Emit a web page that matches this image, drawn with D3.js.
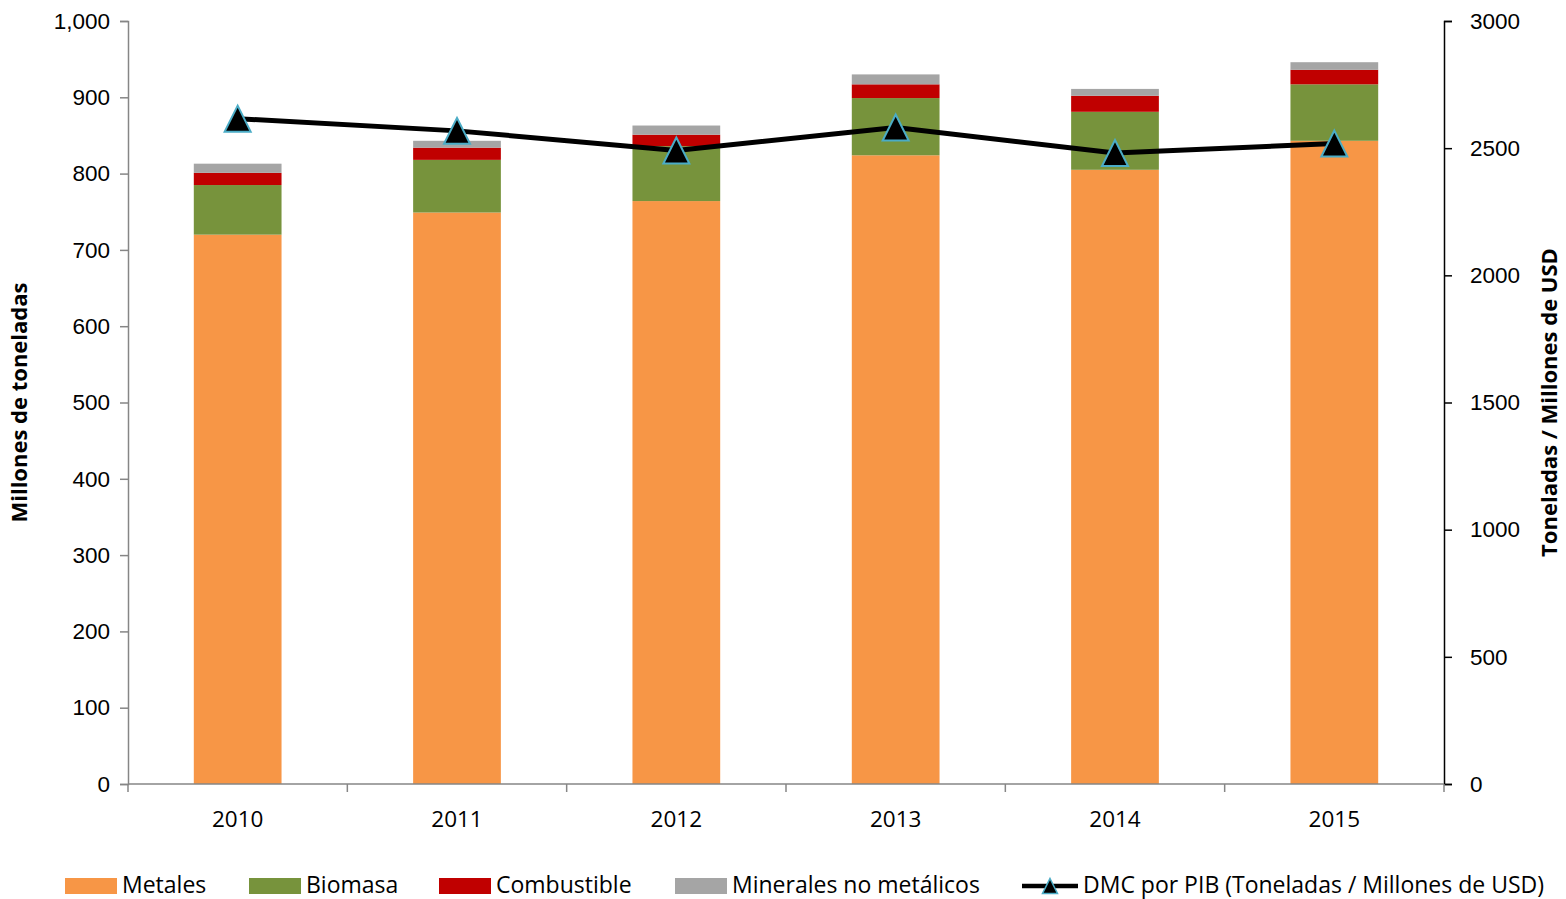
<!DOCTYPE html>
<html>
<head>
<meta charset="utf-8">
<script src="https://cdn.jsdelivr.net/npm/d3@7/dist/d3.min.js"></script>
<style>
  html, body { margin: 0; padding: 0; background: #fff; }
  svg { display: block; font-family: "Open Sans", Lato, sans-serif; }
</style>
</head>
<body>
<svg id="chart" width="1566" height="899"></svg>
<script>
// Consumo material por año (millones de toneladas)
const years = ["2010", "2011", "2012", "2013", "2014", "2015"];
const metales = [720, 749, 764, 824, 805, 843];
const biomasa = [65, 69, 72, 75, 76, 74];
const combustible = [16, 16, 15, 18, 21, 19];
const minerales = [12, 9, 12, 13, 9, 10];
// DMC por PIB (toneladas / millones de USD)
const dmcPib = [2616, 2568, 2491, 2581, 2481, 2518];

const leftTicks = [0, 100, 200, 300, 400, 500, 600, 700, 800, 900, 1000];
const rightTicks = [0, 500, 1000, 1500, 2000, 2500, 3000];

const seriesNames = ["Metales", "Biomasa", "Combustible", "Minerales no metálicos"];
const seriesColors = ["#F79646", "#77933C", "#C00000", "#A5A5A5"];
const lineName = "DMC por PIB (Toneladas / Millones de USD)";

const rows = years.map((y, i) => ({
  year: y,
  "Metales": metales[i],
  "Biomasa": biomasa[i],
  "Combustible": combustible[i],
  "Minerales no metálicos": minerales[i]
}));

const svg = d3.select("#chart");
const m = { left: 128, right: 1444, top: 21, bottom: 784 };

const x = d3.scaleBand().domain(years).range([m.left, m.right]).paddingInner(0.6).paddingOuter(0.3);
const yL = d3.scaleLinear().domain([0, 1000]).range([m.bottom, m.top]);
const yR = d3.scaleLinear().domain([0, 3000]).range([m.bottom, m.top]);

// stacked bars
const stack = d3.stack().keys(seriesNames)(rows);
svg.append("g").selectAll("g").data(stack).join("g")
  .attr("fill", (d, i) => seriesColors[i])
  .selectAll("rect").data(d => d).join("rect")
  .attr("x", d => x(d.data.year))
  .attr("width", x.bandwidth())
  .attr("y", d => yL(d[1]))
  .attr("height", d => yL(d[0]) - yL(d[1]));

// left axis
const gL = svg.append("g").attr("transform", `translate(${m.left},0)`)
  .call(d3.axisLeft(yL).tickValues(leftTicks).tickFormat(d3.format(",")).tickSize(8).tickPadding(10));
gL.select(".domain").attr("stroke", "#868686").attr("stroke-width", 1.5);
gL.selectAll(".tick line").attr("stroke", "#868686").attr("stroke-width", 1.5);
gL.selectAll("text").attr("font-size", 22.5).attr("fill", "#000");

// right axis
const gR = svg.append("g").attr("transform", `translate(${m.right},0)`)
  .call(d3.axisRight(yR).tickValues(rightTicks).tickFormat(d3.format("d")).tickSize(8).tickPadding(18));
gR.select(".domain").attr("stroke", "#000").attr("stroke-width", 1.5);
gR.selectAll(".tick line").attr("stroke", "#000").attr("stroke-width", 1.5);
gR.selectAll("text").attr("font-size", 22.5).attr("fill", "#000");

// x axis: ticks at category boundaries
const bounds = d3.range(years.length + 1).map(i => m.left + i * (m.right - m.left) / years.length);
const gX = svg.append("g");
gX.append("line").attr("x1", m.left).attr("x2", m.right).attr("y1", m.bottom).attr("y2", m.bottom)
  .attr("stroke", "#868686").attr("stroke-width", 1.5);
gX.selectAll("line.tk").data(bounds).join("line").attr("class", "tk")
  .attr("x1", d => d).attr("x2", d => d).attr("y1", m.bottom).attr("y2", m.bottom + 8)
  .attr("stroke", "#868686").attr("stroke-width", 1.5);
gX.selectAll("text").data(years).join("text")
  .attr("x", d => x(d) + x.bandwidth() / 2).attr("y", 827)
  .attr("text-anchor", "middle").attr("font-size", 22.5).text(d => d);

// line series
const line = d3.line().x((d, i) => x(years[i]) + x.bandwidth() / 2).y(d => yR(d));
svg.append("path").datum(dmcPib).attr("d", line)
  .attr("fill", "none").attr("stroke", "#000").attr("stroke-width", 5).attr("stroke-linejoin", "round");

// triangle marker, bounding box centred on the point
const triPath = (w, h) => `M0,${-h / 2}L${w / 2},${h / 2}L${-w / 2},${h / 2}Z`;
svg.append("g").selectAll("path").data(dmcPib).join("path")
  .attr("transform", (d, i) => `translate(${x(years[i]) + x.bandwidth() / 2},${yR(d)})`)
  .attr("d", triPath(26, 26)).attr("fill", "#000").attr("stroke", "#4BACC6").attr("stroke-width", 2);

// axis titles
svg.append("text").attr("transform", `translate(27,${(m.top + m.bottom) / 2}) rotate(-90)`)
  .attr("text-anchor", "middle").attr("font-size", 22).attr("font-weight", "bold").text("Millones de toneladas");
svg.append("text").attr("transform", `translate(1557,${(m.top + m.bottom) / 2}) rotate(-90)`)
  .attr("text-anchor", "middle").attr("font-size", 22).attr("font-weight", "bold").text("Toneladas / Millones de USD");

// legend
const legX = [65, 249, 439, 675];
const lg = svg.append("g");
seriesNames.forEach((n, i) => {
  lg.append("rect").attr("x", legX[i]).attr("y", 878).attr("width", 52).attr("height", 16).attr("fill", seriesColors[i]);
  lg.append("text").attr("x", legX[i] + 57).attr("y", 893).attr("font-size", 23).text(n);
});
lg.append("line").attr("x1", 1022).attr("x2", 1078).attr("y1", 886).attr("y2", 886)
  .attr("stroke", "#000").attr("stroke-width", 4.5);
lg.append("path").attr("transform", "translate(1050,886)")
  .attr("d", triPath(15, 15)).attr("fill", "#000")
  .attr("stroke", "#4BACC6").attr("stroke-width", 1.5);
lg.append("text").attr("x", 1083).attr("y", 893).attr("font-size", 23).text(lineName);
</script>
</body>
</html>
